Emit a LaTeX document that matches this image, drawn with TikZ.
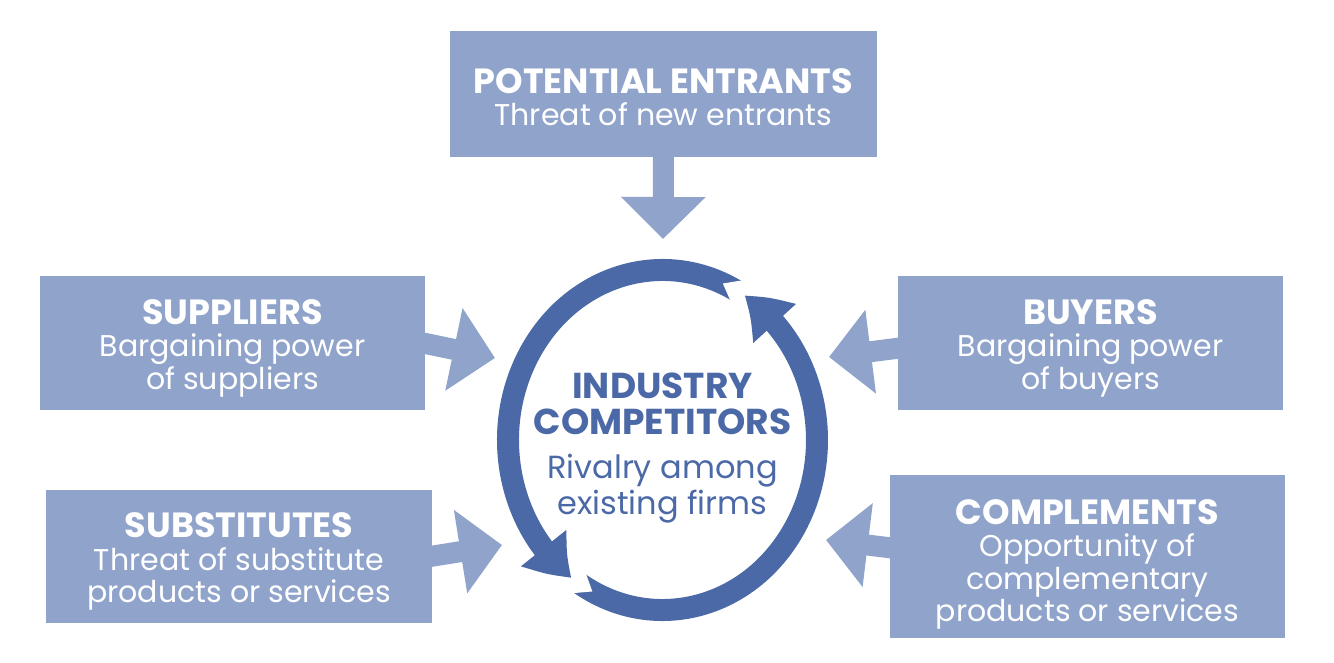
\documentclass[tikz,border=0pt]{standalone}
\usepackage{fontspec}
\setmainfont{Poppins}
\usetikzlibrary{arrows.meta,bending,calc}
\definecolor{boxblue}{HTML}{8FA3CB}
\definecolor{ringblue}{HTML}{4B69A6}
\newcommand\hd[1]{{\fontsize{35}{35}\selectfont\bfseries #1}}
\newcommand\chd[1]{{\fontsize{36}{36}\selectfont\bfseries #1}}
\begin{document}
\begin{tikzpicture}[x=1pt,y=1pt,
  fbox/.style={fill=boxblue, inner sep=0pt},
  boxtext/.style={text=white, align=center, inner sep=0pt,
    font=\fontsize{30}{32.5}\selectfont},
  blockarrow/.style={draw=boxblue, line width=21pt,
    -{Triangle[width=82pt,length=42pt,color=boxblue,fill=boxblue]}},
  ringarrow/.style={draw=ringblue, line width=22pt,
    -{Triangle[width=55pt,length=41pt,bend,color=ringblue,fill=ringblue]}},
  ringtext/.style={text=ringblue, align=center, inner sep=0pt,
    font=\fontsize{32}{36}\selectfont}]
\useasboundingbox (0,0) rectangle (1334,662);
% boxes
\node[fbox, minimum width=427pt, minimum height=126pt] (pe) at (663.5,568) {};
\node[fbox, minimum width=385pt, minimum height=134pt] (sup) at (232.5,319) {};
\node[fbox, minimum width=385pt, minimum height=134pt] (buy) at (1090.5,319) {};
\node[fbox, minimum width=386pt, minimum height=133pt] (sub) at (239,105.5) {};
\node[fbox, minimum width=395pt, minimum height=163pt] (comp) at (1087.5,105.5) {};
% box texts
\node[boxtext] (pet) at ([yshift=-3pt]pe.center)
  {\hd{POTENTIAL ENTRANTS}\\[-1pt] Threat of new entrants};
\node[boxtext] (supt) at ([yshift=-5pt]sup.center)
  {\hd{SUPPLIERS}\\ Bargaining power\\ of suppliers};
\node[boxtext] (buyt) at ([yshift=-5pt]buy.center)
  {\hd{BUYERS}\\ Bargaining power\\ of buyers};
\node[boxtext] (subt) at ([yshift=-5pt]sub.center)
  {\hd{SUBSTITUTES}\\ Threat of substitute\\ products or services};
\node[boxtext] (compt) at ([yshift=-8pt]comp.center)
  {\hd{COMPLEMENTS}\\ Opportunity of\\ complementary\\ products or services};
% tips of block arrows
\coordinate (tpe) at (663,423);
\coordinate (tsup) at (495,304);
\coordinate (tbuy) at (829,305);
\coordinate (tsub) at (502,117);
\coordinate (tcomp) at (826,122);
\draw[blockarrow] ([yshift=2pt]pe.south) -- (tpe);
\draw[blockarrow] ([xshift=-2pt]sup.east) -- (tsup);
\draw[blockarrow] ([xshift=2pt,yshift=-5pt]buy.west) -- (tbuy);
\draw[blockarrow] ([xshift=-2pt]sub.east) -- (tsub);
\draw[blockarrow] ([xshift=2pt,yshift=8.5pt]comp.west) -- (tcomp);
% ring
\coordinate (c) at (662.5,222);
\draw[ringarrow] ($(c)+(237:154.5pt and 170pt)$)
  arc[start angle=237, end angle=418, x radius=154.5pt, y radius=170pt];
\fill[white] ($(c)+(236.5:168pt and 184pt)$) -- ($(c)+(236.5:141pt and 156pt)$)
  -- ($(c)+(243:154.5pt and 170pt)$) -- cycle;
\draw[ringarrow] ($(c)+(61:154.5pt and 170pt)$)
  arc[start angle=61, end angle=234, x radius=154.5pt, y radius=170pt];
\fill[white] ($(c)+(60.5:168pt and 184pt)$) -- ($(c)+(60.5:141pt and 156pt)$)
  -- ($(c)+(67:154.5pt and 170pt)$) -- cycle;
\node[ringtext] (ind) at (662.5,214)
  {\chd{INDUSTRY}\\ \chd{COMPETITORS}\\[8pt] Rivalry among\\ existing firms};
\end{tikzpicture}
\end{document}
